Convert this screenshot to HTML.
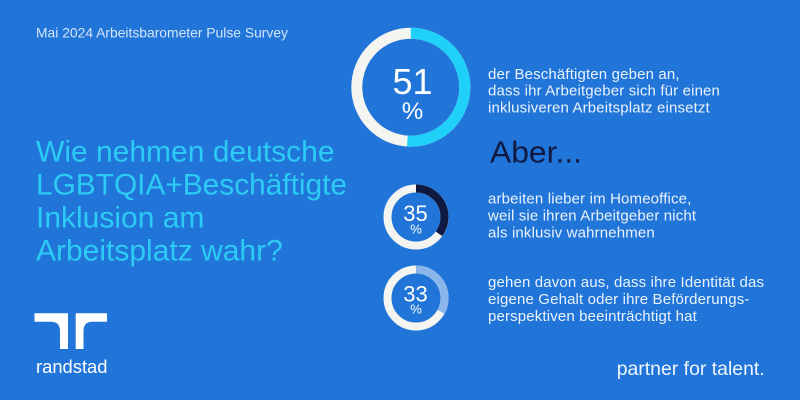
<!DOCTYPE html>
<html>
<head>
<meta charset="utf-8">
<style>
  html,body{margin:0;padding:0;background:#2175D9;}
  svg{display:block;}
  text{font-family:"Liberation Sans", sans-serif;}
</style>
</head>
<body>
<svg width="800" height="400" viewBox="0 0 800 400" xmlns="http://www.w3.org/2000/svg">
  <rect x="0" y="0" width="800" height="400" fill="#2175D9"/>

  <!-- title -->
  <text x="36" y="37.3" font-size="14" fill="#D3E5F8" textLength="252" lengthAdjust="spacingAndGlyphs">Mai 2024 Arbeitsbarometer Pulse Survey</text>

  <!-- headline -->
  <g font-size="30" fill="#2CCBF5">
    <text x="36" y="161.5">Wie nehmen deutsche</text>
    <text x="36" y="194.5" textLength="311" lengthAdjust="spacingAndGlyphs">LGBTQIA+Beschäftigte</text>
    <text x="36" y="227.5">Inklusion am</text>
    <text x="36" y="260.5">Arbeitsplatz wahr?</text>
  </g>

  <!-- big donut 51% -->
  <circle cx="410.8" cy="87.2" r="54" fill="none" stroke="#F4F4F0" stroke-width="11"/>
  <circle cx="410.8" cy="87.2" r="54" fill="none" stroke="#1FD0F9" stroke-width="11"
          stroke-dasharray="173.0 400" transform="rotate(-90 410.8 87.2)"/>
  <text x="412.5" y="94" font-size="36" fill="#FFFFFF" text-anchor="middle">51</text>
  <text x="412.5" y="119" font-size="24" fill="#FFFFFF" text-anchor="middle">%</text>

  <!-- block 1 -->
  <g font-size="15" fill="#EAF2FB" letter-spacing="0.15">
    <text x="488" y="79">der Beschäftigten geben an,</text>
    <text x="488" y="95.7">dass ihr Arbeitgeber sich für einen</text>
    <text x="488" y="112.4">inklusiveren Arbeitsplatz einsetzt</text>
  </g>

  <!-- Aber... -->
  <text x="490" y="162.3" font-size="31" fill="#0F1941" textLength="92" lengthAdjust="spacingAndGlyphs">Aber...</text>

  <!-- donut 35% -->
  <circle cx="416" cy="217" r="28.5" fill="none" stroke="#F4F4F0" stroke-width="8"/>
  <circle cx="416" cy="217" r="28.5" fill="none" stroke="#0F1941" stroke-width="8"
          stroke-dasharray="62.67 300" transform="rotate(-90 416 217)"/>
  <text x="415.5" y="221" font-size="22" fill="#FFFFFF" text-anchor="middle">35</text>
  <text x="416" y="233.3" font-size="13" fill="#FFFFFF" text-anchor="middle">%</text>

  <!-- block 2 -->
  <g font-size="15" fill="#EAF2FB" letter-spacing="0.15">
    <text x="488" y="203.5">arbeiten lieber im Homeoffice,</text>
    <text x="488" y="220.5">weil sie ihren Arbeitgeber nicht</text>
    <text x="488" y="237.5">als inklusiv wahrnehmen</text>
  </g>

  <!-- donut 33% -->
  <circle cx="416" cy="298" r="28.5" fill="none" stroke="#F4F4F0" stroke-width="8"/>
  <circle cx="416" cy="298" r="28.5" fill="none" stroke="#8AB6EC" stroke-width="8"
          stroke-dasharray="59.09 300" transform="rotate(-90 416 298)"/>
  <text x="415.5" y="301.7" font-size="22" fill="#FFFFFF" text-anchor="middle">33</text>
  <text x="416" y="313.3" font-size="13" fill="#FFFFFF" text-anchor="middle">%</text>

  <!-- block 3 -->
  <g font-size="15" fill="#EAF2FB" letter-spacing="0.15">
    <text x="488" y="287">gehen davon aus, dass ihre Identität das</text>
    <text x="488" y="304">eigene Gehalt oder ihre Beförderungs-</text>
    <text x="488" y="321">perspektiven beeinträchtigt hat</text>
  </g>

  <!-- randstad logo -->
  <path d="M34.5,313.3 H68 V349 H60 V331 Q60,321.7 51,321.7 H34.5 Z" fill="#FFFFFF"/>
  <path d="M107,313.3 H75.7 V349 H83.5 V331 Q83.5,321.7 92.5,321.7 H107 Z" fill="#FFFFFF"/>
  <text x="36" y="373" font-size="18" fill="#FFFFFF" textLength="71.5" lengthAdjust="spacingAndGlyphs">randstad</text>

  <!-- tagline -->
  <text x="616.7" y="375" font-size="19.5" fill="#EEF4FC" textLength="148" lengthAdjust="spacingAndGlyphs">partner for talent.</text>
</svg>
</body>
</html>
